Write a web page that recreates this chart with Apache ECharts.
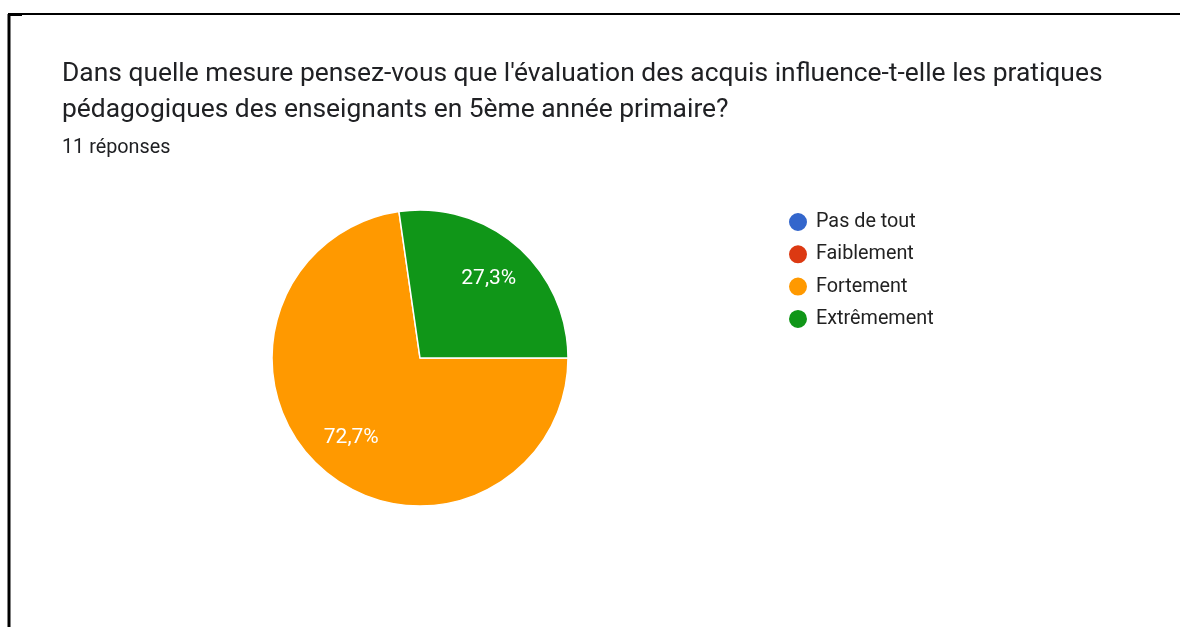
<!DOCTYPE html>
<html>
<head>
<meta charset="utf-8">
<script src="https://cdn.jsdelivr.net/npm/echarts@6/dist/echarts.min.js"></script>
<style>
  html, body { margin: 0; padding: 0; background: #fff; }
  #chart { width: 1180px; height: 627px; }
</style>
</head>
<body>
<div id="chart"></div>
<script>
const categories = ['Pas de tout', 'Faiblement', 'Fortement', 'Extrêmement']
const counts = [0, 0, 8, 3]
const colors = ['#3366cc', '#dc3912', '#ff9900', '#109618']
const titleLines = [
  "Dans quelle mesure pensez-vous que l'évaluation des acquis influence-t-elle les pratiques",
  'pédagogiques des enseignants en 5ème année primaire?'
]
const responses = '11 réponses'

const total = counts.reduce((a, b) => a + b, 0)
const pieData = categories.map((name, i) => ({ name, value: counts[i], itemStyle: { color: colors[i] } }))

// pourcentage à la française, rien pour les parts vides
function pct(p) {
  if (!p.value) return ''
  return (p.value / total * 100).toFixed(1).replace('.', ',') + '%'
}

const chart = echarts.init(document.getElementById('chart'))
chart.setOption({
  animation: false,
  textStyle: { fontFamily: 'Roboto, Arial, sans-serif' },
  title: {
    text: titleLines.join('\n'),
    subtext: responses,
    left: 57,
    top: 51,
    itemGap: 10,
    textStyle: { fontSize: 26.4, fontWeight: 'normal', color: '#202124', lineHeight: 36 },
    subtextStyle: { fontSize: 19.8, color: '#202124' },
  },
  legend: {
    orient: 'vertical',
    left: 782,
    top: 206,
    icon: 'circle',
    itemWidth: 20,
    itemHeight: 20,
    itemGap: 10.3,
    selectedMode: false,
    textStyle: { fontSize: 19.8, color: '#222', padding: [0, 0, 0, 3] },
  },
  graphic: [
    { type: 'line', shape: { x1: 8, y1: 14, x2: 1180, y2: 14 }, style: { stroke: '#000', lineWidth: 2 } },
    { type: 'line', shape: { x1: 9, y1: 14, x2: 9, y2: 627 }, style: { stroke: '#000', lineWidth: 3 } },
    { type: 'line', shape: { x1: 8, y1: 15, x2: 22, y2: 15 }, style: { stroke: '#000', lineWidth: 2 } },
  ],
  series: [
    {
      type: 'pie',
      center: [420, 358],
      radius: [0, 148],
      startAngle: 0,
      clockwise: true,
      silent: true,
      data: pieData,
      itemStyle: { borderColor: '#fff', borderWidth: 1.5 },
      label: { show: false },
      labelLine: { show: false },
    },
    {
      // calque transparent pour placer les étiquettes vers 0,7 du rayon
      type: 'pie',
      center: [420, 358],
      radius: [0, 204],
      startAngle: 0,
      clockwise: true,
      silent: true,
      legendHoverLink: false,
      data: categories.map((name, i) => ({ name, value: counts[i] })),
      itemStyle: { color: 'rgba(0,0,0,0)', borderWidth: 0 },
      label: {
        show: true,
        position: 'inside',
        formatter: pct,
        color: '#fff',
        fontSize: 21,
      },
      labelLine: { show: false },
    },
  ],
})
</script>
</body>
</html>
